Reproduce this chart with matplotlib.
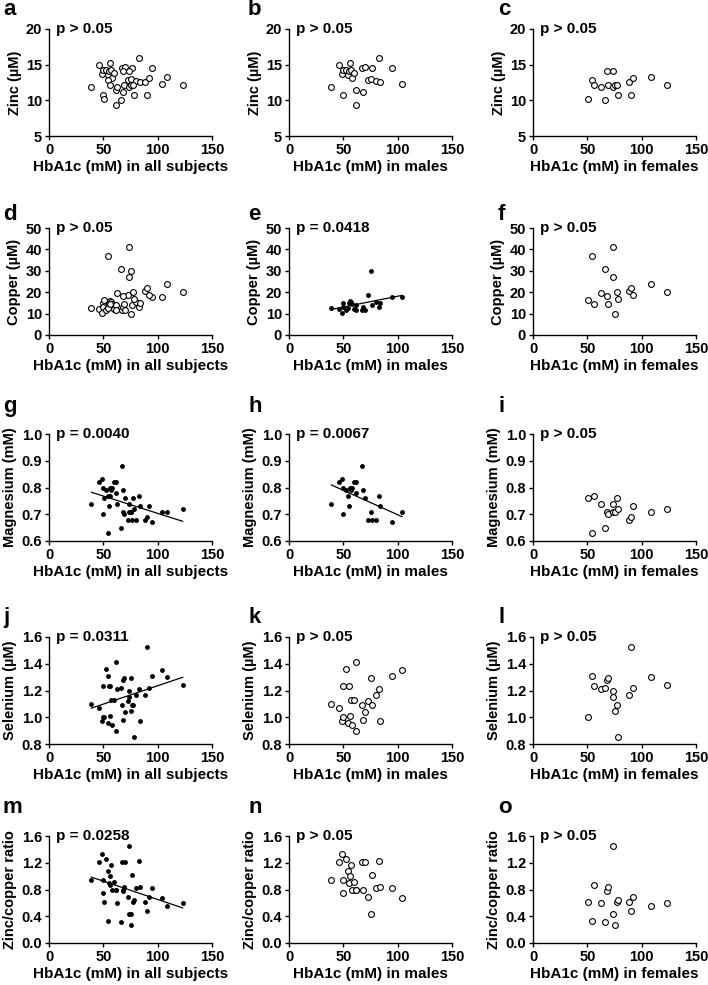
import numpy as np
import matplotlib
matplotlib.use("Agg")
import matplotlib.pyplot as plt

plt.rcParams["font.family"] = ["Liberation Sans", "DejaVu Sans"]
plt.rcParams["font.weight"] = "bold"
plt.rcParams["axes.labelweight"] = "bold"

# HbA1c (mM) per subject
male_hba1c = [39, 46, 49, 50, 50, 52, 54, 55, 56, 57, 58, 60, 62, 62, 67, 68, 70, 73, 75, 76, 80, 83, 84, 95, 104]
female_hba1c = [51, 54, 56, 63, 66, 68, 69, 74, 74, 75, 77, 78, 88, 90, 92, 109, 123]

# Zinc (uM)
male_zinc = [11.9, 15.0, 13.7, 14.3, 10.8, 14.25, 13.5, 14.1, 15.2, 14.3, 13.2, 13.9, 11.5, 9.4, 14.5,
             11.1, 14.7, 12.8, 13.0, 14.5, 12.7, 15.9, 12.5, 14.5, 12.3]
female_zinc = [10.2, 12.9, 12.2, 11.8, 10.0, 14.1, 12.2, 14.1, 11.8, 12.1, 12.2, 10.7, 12.6, 10.7, 13.2, 13.3, 12.1]

# Copper (uM)
male_copper = [12.5, 12.2, 10.2, 14.8, 13.3, 11.5, 12.5, 15.1, 16.0, 15.6, 14.5, 12.2, 14.1, 11.8, 11.8,
               13.3, 11.8, 18.6, 29.7, 14.1, 15.6, 13.0, 15.1, 17.6, 17.7]
female_copper = [16.3, 37.0, 14.3, 19.6, 30.7, 18.1, 14.6, 41.3, 27.0, 9.8, 20.1, 16.6, 20.4, 21.9, 18.9, 23.8, 19.9]

# Magnesium (mM)
male_mg = [0.74, 0.82, 0.83, 0.70, 0.80, 0.79, 0.77, 0.73, 0.80, 0.79, 0.80, 0.82, 0.82, 0.78, 0.88,
           0.79, 0.76, 0.68, 0.71, 0.68, 0.68, 0.77, 0.73, 0.67, 0.71]
female_mg = [0.76, 0.63, 0.77, 0.74, 0.65, 0.71, 0.70, 0.74, 0.71, 0.71, 0.76, 0.72, 0.68, 0.69, 0.73, 0.71, 0.72]

# Selenium (uM)
male_se = [1.10, 1.07, 0.97, 1.235, 1.00, 1.364, 0.96, 1.232, 1.01, 1.13, 0.94, 1.13, 1.416, 0.90, 1.09,
           0.98, 1.04, 1.12, 1.29, 1.09, 1.17, 1.21, 0.97, 1.31, 1.35]
female_se = [1.00, 1.31, 1.23, 1.21, 1.22, 1.28, 1.29, 1.20, 1.15, 1.05, 1.09, 0.85, 1.17, 1.525, 1.22, 1.30, 1.24]

# Zinc/copper ratio
male_ratio = [0.94, 1.21, 1.33, 0.94, 0.75, 1.26, 1.08, 0.90, 1.00, 1.16, 0.80, 0.91, 0.80, 0.80, 1.21,
              0.80, 1.21, 0.69, 0.43, 1.01, 0.82, 1.22, 0.84, 0.82, 0.68]
female_ratio = [0.62, 0.33, 0.86, 0.60, 0.31, 0.775, 0.84, 1.45, 0.44, 0.27, 0.61, 0.64, 0.61, 0.48, 0.69, 0.55, 0.60]

# row settings: label, y limits, y ticks, (male, female), p-values per column
rows = [
    ("Zinc (\u00b5M)", (5, 20), [5, 10, 15, 20], (male_zinc, female_zinc), ["p > 0.05", "p > 0.05", "p > 0.05"]),
    ("Copper (\u00b5M)", (0, 50), [0, 10, 20, 30, 40, 50], (male_copper, female_copper), ["p > 0.05", "p = 0.0418", "p > 0.05"]),
    ("Magnesium (mM)", (0.6, 1.0), [0.6, 0.7, 0.8, 0.9, 1.0], (male_mg, female_mg), ["p = 0.0040", "p = 0.0067", "p > 0.05"]),
    ("Selenium (\u00b5M)", (0.8, 1.6), [0.8, 1.0, 1.2, 1.4, 1.6], (male_se, female_se), ["p = 0.0311", "p > 0.05", "p > 0.05"]),
    ("Zinc/copper ratio", (0.0, 1.6), [0.0, 0.4, 0.8, 1.2, 1.6], (male_ratio, female_ratio), ["p = 0.0258", "p > 0.05", "p > 0.05"]),
]
xlabels = ["HbA1c (mM) in all subjects", "HbA1c (mM) in males", "HbA1c (mM) in females"]
letters = "abcdefghijklmno"

W, H = 708, 985
fig = plt.figure(figsize=(W / 100, H / 100), dpi=100)

col_left = [49, 289, 533]
col_w = 163
row_top = [29, 228, 434, 637, 836]
row_h = 107
letter_x = [3, 248, 498]
letter_base = [15, 220, 412, 623, 813]

for r, (ylabel, ylim, yticks, (ym, yf), pvals) in enumerate(rows):
    for c in range(3):
        ax = fig.add_axes([col_left[c] / W, 1 - (row_top[r] + row_h) / H, col_w / W, row_h / H])
        if c == 0:
            x = np.array(male_hba1c + female_hba1c, dtype=float)
            y = np.array(ym + yf, dtype=float)
        elif c == 1:
            x = np.array(male_hba1c, dtype=float)
            y = np.array(ym, dtype=float)
        else:
            x = np.array(female_hba1c, dtype=float)
            y = np.array(yf, dtype=float)

        signif = pvals[c].startswith("p =")
        if signif:
            ax.plot(x, y, "o", color="black", ms=3.5, mew=0, clip_on=False, zorder=3)
            k, b = np.polyfit(x, y, 1)
            xx = np.array([x.min(), x.max()])
            ax.plot(xx, k * xx + b, color="black", lw=0.9, zorder=2)
        else:
            ax.plot(x, y, "o", mfc="white", mec="black", ms=4.2, mew=0.8, clip_on=False, zorder=3)

        ax.set_xlim(0, 150)
        ax.set_xticks([0, 50, 100, 150])
        ax.set_ylim(*ylim)
        ax.set_yticks(yticks)
        for s in ["top", "right"]:
            ax.spines[s].set_visible(False)
        for s in ["left", "bottom"]:
            ax.spines[s].set_linewidth(1.0)
        ax.tick_params(direction="out", length=3, width=1.0, labelsize=10.5, pad=2)
        for lab in ax.get_xticklabels() + ax.get_yticklabels():
            lab.set_fontweight("bold")
        ax.set_ylabel(ylabel, fontsize=10.5, fontweight="bold", labelpad=3)
        ax.set_xlabel(xlabels[c], fontsize=11, fontweight="bold", labelpad=2)
        ax.text(0.04, 1.0, pvals[c], transform=ax.transAxes, fontsize=11, fontweight="bold",
                va="center", ha="left")
        fig.text(letter_x[c] / W, 1 - letter_base[r] / H, letters[r * 3 + c], fontsize=16,
                 fontweight="bold", ha="left", va="baseline")

fig.savefig("out.png", dpi=100)
